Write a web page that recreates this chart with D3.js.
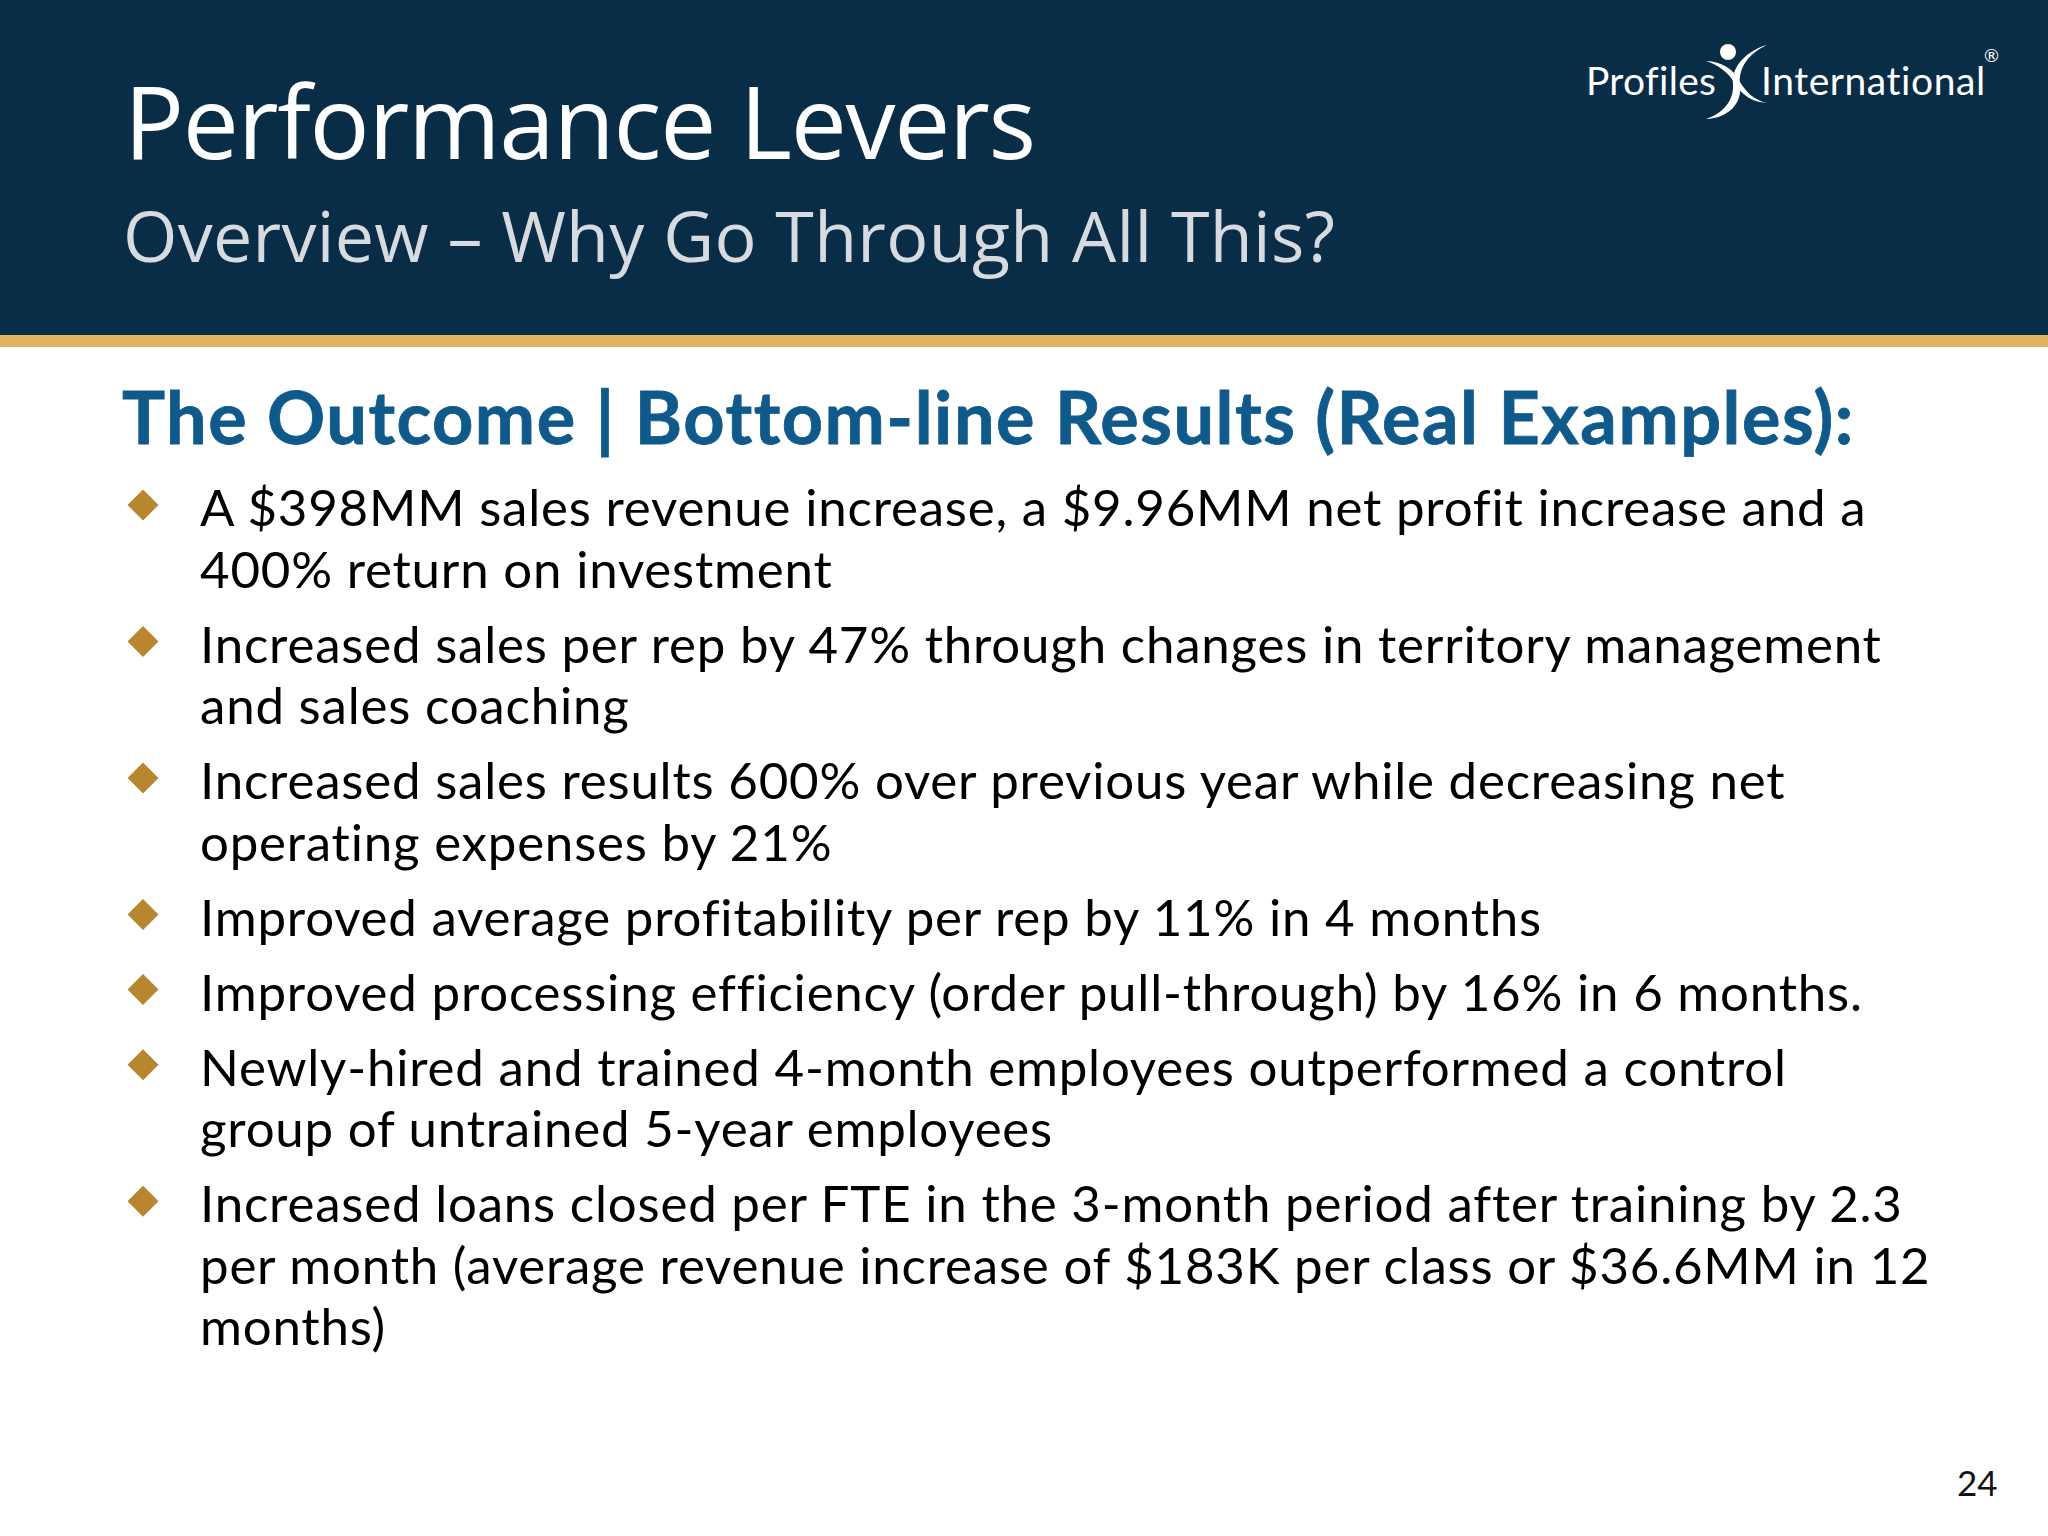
<!DOCTYPE html>
<html><head><meta charset="utf-8">
<script src="https://cdn.jsdelivr.net/npm/d3@7/dist/d3.min.js"></script>
<style>html,body{margin:0;padding:0;background:#fff}svg{display:block}text{font-variant-ligatures:none}</style>
</head><body><svg id="c" width="2048" height="1536"></svg>
<script>
const titleText = "Performance Levers";
const subtitleText = "Overview – Why Go Through All This?";
const headingText = "The Outcome | Bottom-line Results (Real Examples):";
const bullets = [
  ["A $398MM sales revenue increase, a $9.96MM net profit increase and a","400% return on investment"],
  ["Increased sales per rep by 47% through changes in territory management","and sales coaching"],
  ["Increased sales results 600% over previous year while decreasing net","operating expenses by 21%"],
  ["Improved average profitability per rep by 11% in 4 months"],
  ["Improved processing efficiency (order pull-through) by 16% in 6 months."],
  ["Newly-hired and trained 4-month employees outperformed a control","group of untrained 5-year employees"],
  ["Increased loans closed per FTE in the 3-month period after training by 2.3","per month (average revenue increase of $183K per class or $36.6MM in 12","months)"]
];
const pageNumber = "24";

const svg = d3.select("#c");
svg.append("rect").attr("width",2048).attr("height",1536).attr("fill","#fff");
svg.append("rect").attr("width",2048).attr("height",335).attr("fill","#092d47");
svg.append("rect").attr("y",335).attr("width",2048).attr("height",12).attr("fill","#e0b35f");

const txt = (x,y,s,size,fill,family,weight,ls)=>svg.append("text").attr("x",x).attr("y",y).text(s)
  .attr("font-size",size).attr("fill",fill).attr("font-family",family).attr("font-weight",weight||400)
  .attr("letter-spacing",ls||0);

txt(124,159,titleText,100,"#fff","'Open Sans'",400,-1.3);
txt(123,262,subtitleText,70,"#d7dbe0","'Open Sans'",400,0.3);
txt(122,444,headingText,72,"#105a8b","Lato",700,1.5).attr("stroke","#105a8b").attr("stroke-width",0.8);

const flat = [];
let pos = 0;
bullets.forEach(b=>{ b.forEach((s,j)=>{ flat.push({s,first:j===0,pos}); pos += 1; }); pos += 0.22; });
const y = d3.scaleLinear().domain([0,1]).range([526,587.5]);
const body = svg.append("g");
body.selectAll("text").data(flat).join("text")
  .attr("x",200).attr("y",d=>y(d.pos)).text(d=>d.s)
  .attr("font-family","Lato").attr("font-size",51).attr("letter-spacing",0.8).attr("fill","#000");
body.selectAll("path").data(flat.filter(d=>d.first)).join("path")
  .attr("transform",d=>`translate(143,${y(d.pos)-21})`)
  .attr("d","M0,-15.5L15.5,0L0,15.5L-15.5,0Z").attr("fill","#b98630");

txt(1957,1496,pageNumber,35,"#111","Lato");

const logo = svg.append("g");
txt(1586,95,"Profiles",39,"#fff","Lato",400,0.3);
txt(1761,95,"International",39,"#fff","Lato",400,0.55);
txt(1984,62,"®",18,"#fff","Lato");
logo.append("circle").attr("cx",1728).attr("cy",52).attr("r",8).attr("fill","#fff");
logo.append("path").attr("fill","#fff").attr("d","M1706,61 C1722,62 1733,68 1740,82 C1746,92 1754,100 1767,103 C1752,102 1742,95 1735,84 C1729,73 1719,65 1706,61Z");
logo.append("path").attr("fill","#fff").attr("d","M1767,45 C1748,50 1731,66 1733,84 C1734,100 1724,113 1706,119 C1728,118 1742,104 1740,86 C1738,68 1748,54 1767,45Z");
</script></body></html>
